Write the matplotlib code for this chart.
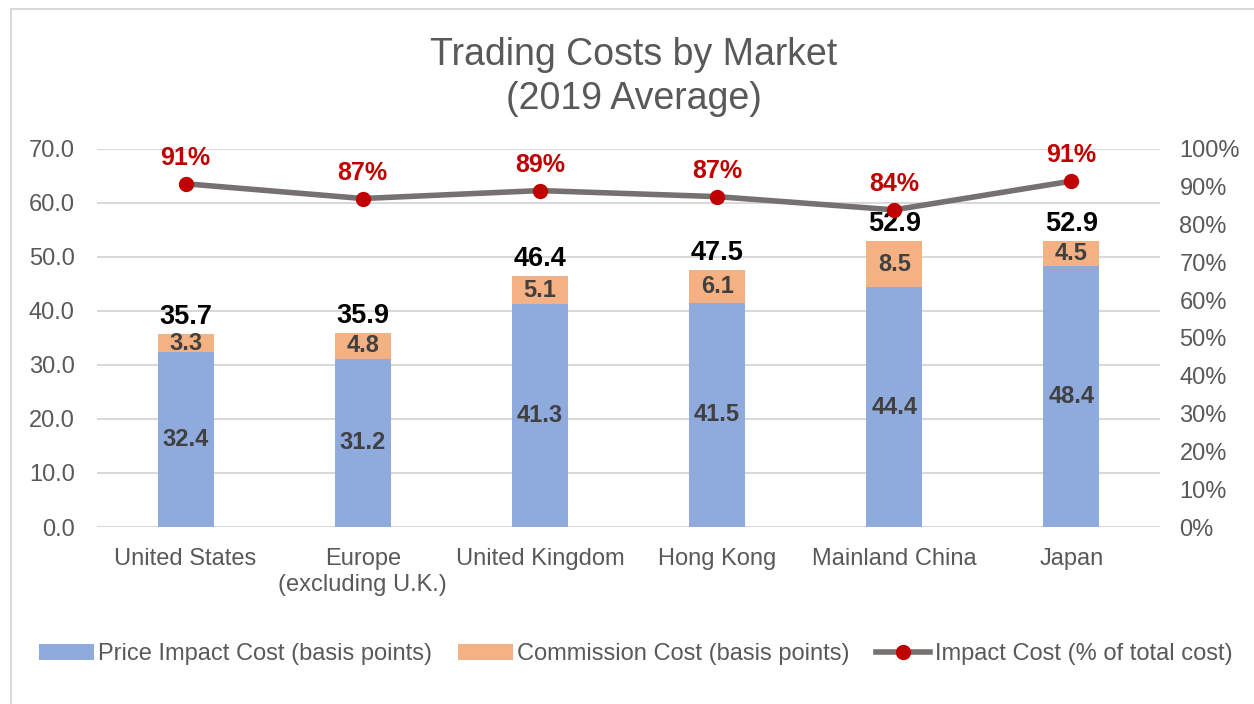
"""Trading costs by market, 2019 average: stacked bars plus impact-share line."""

import numpy as np
import matplotlib
matplotlib.use("Agg")
import matplotlib.pyplot as plt
from matplotlib.lines import Line2D
from matplotlib.patches import Patch, Rectangle

plt.rcParams["font.family"] = ["Liberation Sans", "DejaVu Sans"]

markets = ["United States", "Europe\n(excluding U.K.)", "United Kingdom",
           "Hong Kong", "Mainland China", "Japan"]
price_impact = [32.4, 31.2, 41.3, 41.5, 44.4, 48.4]
commission = [3.3, 4.8, 5.1, 6.1, 8.5, 4.5]
totals = [35.7, 35.9, 46.4, 47.5, 52.9, 52.9]
impact_share = [0.908, 0.869, 0.890, 0.874, 0.839, 0.915]
share_labels = ["91%", "87%", "89%", "87%", "84%", "91%"]

BLUE = "#8FAADC"
ORANGE = "#F4B183"
LINE_GRAY = "#767171"
RED = "#C00000"
TEXT_GRAY = "#595959"
GRID = "#D9D9D9"

fig = plt.figure(figsize=(12.54, 7.04), dpi=100)
# light frame around the chart area (runs off the right and bottom edge)
fig.patches.append(Rectangle((11 / 1254, -0.05), 1.2, 1 - 9 / 704 + 0.05,
                             transform=fig.transFigure, fill=False,
                             edgecolor="#D9D9D9", linewidth=1.5))

ax = fig.add_axes([97 / 1254, 1 - 527 / 704, (1160 - 97) / 1254, (527 - 149) / 704])
x = np.arange(len(markets))
width = 0.316

ax.bar(x, price_impact, width, color=BLUE, zorder=2)
ax.bar(x, commission, width, bottom=price_impact, color=ORANGE, zorder=2)

ax.set_xlim(-0.5, len(markets) - 0.5)
ax.set_ylim(0, 70)
ax.set_yticks(np.arange(0, 71, 10))
ax.set_yticklabels([f"{v:.1f}" for v in np.arange(0, 71, 10)])
ax.set_xticks(x)
ax.set_xticklabels(markets, linespacing=1.25)
ax.grid(axis="y", color=GRID, linewidth=1.5, zorder=0)
ax.set_axisbelow(True)
for s in ax.spines.values():
    s.set_visible(False)
ax.tick_params(axis="both", length=0, labelsize=17, colors=TEXT_GRAY)
ax.tick_params(axis="x", pad=15)
ax.tick_params(axis="y", pad=16)

for xi, p, c, t in zip(x, price_impact, commission, totals):
    ax.text(xi, p / 2, f"{p:.1f}", ha="center", va="center",
            fontsize=17, fontweight="bold", color="#404040", zorder=4)
    ax.text(xi, p + c / 2, f"{c:.1f}", ha="center", va="center",
            fontsize=17, fontweight="bold", color="#404040", zorder=4)
    ax.annotate(f"{t:.1f}", (xi, t), xytext=(0, 3), textcoords="offset points",
                ha="center", va="bottom", fontsize=19.5, fontweight="bold",
                color="black", zorder=4)

ax2 = ax.twinx()
ax2.set_ylim(0, 1.0)
ax2.set_yticks(np.arange(0, 1.01, 0.1))
ax2.set_yticklabels([f"{int(round(v * 100))}%" for v in np.arange(0, 1.01, 0.1)])
for s in ax2.spines.values():
    s.set_visible(False)
ax2.tick_params(axis="y", length=0, labelsize=17, colors=TEXT_GRAY, pad=14)
ax2.plot(x, impact_share, color=LINE_GRAY, linewidth=4, zorder=3)
ax2.plot(x, impact_share, "o", color=RED, markersize=10, zorder=4)
for xi, v, lab in zip(x, impact_share, share_labels):
    ax2.annotate(lab, (xi, v), xytext=(0, 10), textcoords="offset points",
                 ha="center", va="bottom", fontsize=18, fontweight="bold",
                 color=RED)

fig.text(634 / 1254, 1 - 77 / 704, "Trading Costs by Market\n(2019 Average)",
         ha="center", va="center", fontsize=27, color=TEXT_GRAY,
         linespacing=1.3)

handles = [
    Patch(facecolor=BLUE, label="Price Impact Cost (basis points)"),
    Patch(facecolor=ORANGE, label="Commission Cost (basis points)"),
    Line2D([0], [0], color=LINE_GRAY, linewidth=4, marker="o",
           markerfacecolor=RED, markeredgecolor=RED, markersize=10,
           label="Impact Cost (% of total cost)"),
]
fig.legend(handles=handles, loc="center", bbox_to_anchor=(636 / 1254, 1 - 654 / 704),
           ncol=3, frameon=False, fontsize=17, labelcolor=TEXT_GRAY,
           handlelength=2.3, handleheight=0.65, handletextpad=0.2,
           columnspacing=1.1)

fig.savefig("out.png", dpi=100)
